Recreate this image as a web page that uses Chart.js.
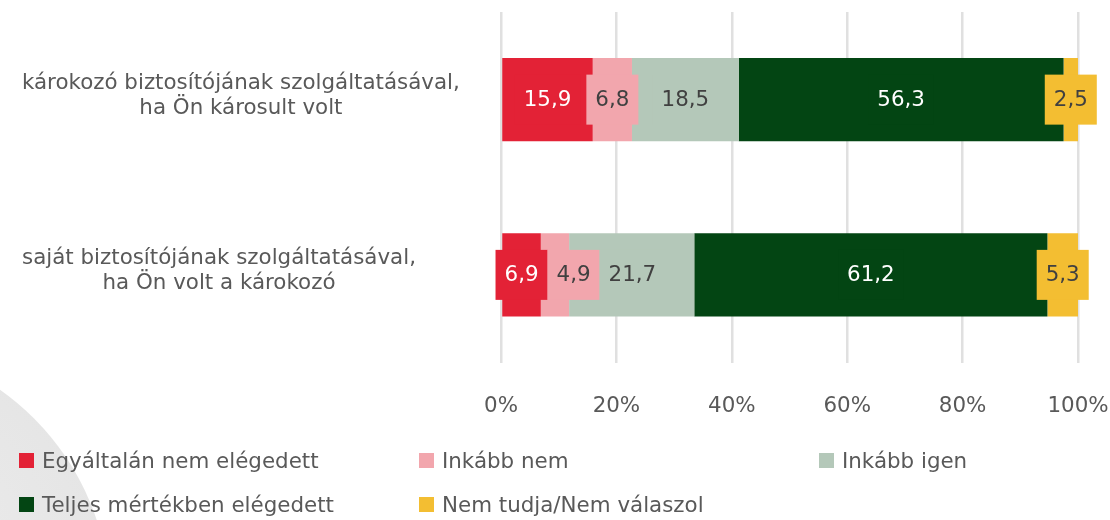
<!DOCTYPE html>
<html>
<head>
<meta charset="utf-8">
<script src="https://cdn.jsdelivr.net/npm/chart.js@4"></script>
<style>
  html, body { margin: 0; padding: 0; background: #ffffff; }
  #wrap { position: relative; width: 1110px; height: 520px; overflow: hidden; }
  #circle { position: absolute; left: -410px; top: 342px; width: 520px; height: 520px; border-radius: 50%;
            background: radial-gradient(circle at 60% 40%, #ececec 0%, #e3e3e3 60%, #dadada 100%); z-index: 0; }
  #c { position: absolute; left: 0; top: 0; z-index: 1; }
  #legend { position: absolute; left: 0; top: 0; width: 1110px; height: 520px; z-index: 2; pointer-events: none;
            font-family: "DejaVu Sans", Verdana, sans-serif; font-size: 21.4px; color: #595959; }
  .li { position: absolute; display: flex; align-items: center; white-space: nowrap; }
  .sw { width: 15px; height: 15px; margin-right: 8px; }
</style>
</head>
<body>
<div id="wrap">
  <div id="circle"></div>
  <canvas id="c" width="1110" height="520"></canvas>
  <div id="legend"></div>
</div>
<script>
const categories = [
  ["károkozó biztosítójának szolgáltatásával,", "ha Ön károsult volt"],
  ["saját biztosítójának szolgáltatásával,", "ha Ön volt a károkozó"]
];
const seriesNames = ["Egyáltalán nem elégedett", "Inkább nem", "Inkább igen", "Teljes mértékben elégedett", "Nem tudja/Nem válaszol"];
const seriesColors = ["#E32236", "#F2A6AD", "#B4C8B9", "#034513", "#F3BE32"];
const labelColors = ["#ffffff", "#404040", "#404040", "#ffffff", "#404040"];
const egyaltalanNem = [15.9, 6.9];
const inkabbNem = [6.8, 4.9];
const inkabbIgen = [18.5, 21.7];
const teljesen = [56.3, 61.2];
const nemTudja = [2.5, 5.3];
const xTicks = [0, 20, 40, 60, 80, 100];

const seriesValues = [egyaltalanNem, inkabbNem, inkabbIgen, teljesen, nemTudja];
const FONT = '"DejaVu Sans", Verdana, sans-serif';
const FS = 21.4;
const TEXT = '#595959';

const datasets = seriesNames.map((n, i) => ({
  label: n,
  data: seriesValues[i],
  backgroundColor: seriesColors[i],
  borderWidth: 0,
  barPercentage: 0.95,
  categoryPercentage: 0.5
}));

const fmt = v => v.toFixed(1).replace('.', ',');

const labelPlugin = {
  id: 'labels',
  afterDatasetsDraw(chart) {
    const ctx = chart.ctx;
    ctx.save();
    ctx.font = FS + 'px ' + FONT;
    ctx.textAlign = 'center';
    ctx.textBaseline = 'middle';
    const n = chart.data.labels.length;
    for (let j = 0; j < n; j++) {
      let prevRight = -Infinity;
      chart.data.datasets.forEach((ds, di) => {
        const bar = chart.getDatasetMeta(di).data[j];
        const v = ds.data[j];
        const t = fmt(v);
        const w = ctx.measureText(t).width + 18;
        let cx = (bar.x + bar.base) / 2;
        if (cx - w / 2 < prevRight) cx = prevRight + w / 2;
        prevRight = cx + w / 2;
        const cy = bar.y;
        ctx.fillStyle = seriesColors[di];
        ctx.fillRect(cx - w / 2, cy - 25, w, 50);
        ctx.fillStyle = labelColors[di];
        ctx.fillText(t, cx, cy + 1);
      });
    }
    ctx.restore();
  },
  afterDraw(chart) {
    const ctx = chart.ctx;
    const ys = chart.scales.y;
    ctx.save();
    ctx.font = FS + 'px ' + FONT;
    ctx.fillStyle = TEXT;
    ctx.textAlign = 'center';
    ctx.textBaseline = 'middle';
    categories.forEach((lines, i) => {
      const maxW = Math.max(...lines.map(l => ctx.measureText(l).width));
      const cx = 22 + maxW / 2;
      const cy = ys.getPixelForValue(i) - 4;
      const lh = 25;
      lines.forEach((l, k) => {
        ctx.fillText(l, cx, cy + (k - (lines.length - 1) / 2) * lh);
      });
    });
    ctx.restore();
  }
};

new Chart(document.getElementById('c'), {
  type: 'bar',
  data: { labels: categories.map(c => c.join(' ')), datasets },
  options: {
    indexAxis: 'y',
    responsive: false,
    animation: false,
    layout: { padding: { top: 12, right: 32, bottom: 0, left: 0 } },
    plugins: { legend: { display: false }, tooltip: { enabled: false } },
    scales: {
      x: {
        stacked: true, min: 0, max: 100,
        afterBuildTicks: s => { s.ticks = xTicks.map(v => ({ value: v })); },
        afterFit: s => { s.height = 520 - 362.5; s.paddingRight = 0; s.paddingLeft = 0; },
        ticks: { callback: v => v + '%', color: TEXT, font: { family: FONT, size: FS }, padding: 31, maxRotation: 0 },
        grid: { color: '#e0e0e0', lineWidth: 2.5, drawTicks: false },
        border: { display: false }
      },
      y: {
        stacked: true,
        afterFit: s => { s.width = 501; },
        ticks: { display: false },
        grid: { display: false },
        border: { display: false }
      }
    }
  },
  plugins: [labelPlugin]
});

const legendPos = [[19, 462], [419, 462], [819, 462], [19, 506], [419, 506]];
const lg = document.getElementById('legend');
seriesNames.forEach((n, i) => {
  const d = document.createElement('div');
  d.className = 'li';
  d.style.left = legendPos[i][0] + 'px';
  d.style.top = (legendPos[i][1] - 14) + 'px';
  d.innerHTML = '<span class="sw" style="background:' + seriesColors[i] + '"></span><span>' + n + '</span>';
  lg.appendChild(d);
});
</script>
</body>
</html>
